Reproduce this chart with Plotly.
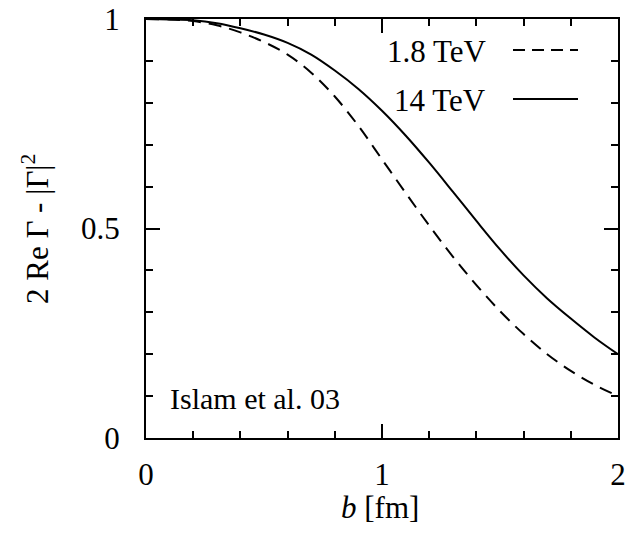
import plotly.graph_objects as go

b_vals = [0.0, 0.1, 0.2, 0.3, 0.4, 0.5, 0.6, 0.7, 0.8, 0.9, 1.0, 1.1, 1.2, 1.3, 1.4, 1.5, 1.6, 1.7, 1.8, 1.9, 2.0]
profile_14tev = [1.0, 0.999, 0.997, 0.99, 0.978, 0.963, 0.943, 0.915, 0.877, 0.833, 0.781, 0.722, 0.657, 0.588, 0.518, 0.45, 0.388, 0.333, 0.285, 0.24, 0.20]
profile_18tev = [1.0, 0.999, 0.995, 0.985, 0.968, 0.945, 0.915, 0.872, 0.815, 0.745, 0.665, 0.585, 0.507, 0.433, 0.365, 0.303, 0.248, 0.2, 0.16, 0.127, 0.10]

legend_labels = ["1.8 TeV", "14 TeV"]
FONT = "Liberation Serif"
DASH = "13px,8px"

fig = go.Figure()
fig.add_trace(go.Scatter(x=b_vals, y=profile_18tev, mode="lines", name=legend_labels[0],
                         line=dict(color="black", width=2, dash=DASH, shape="spline"), showlegend=False))
fig.add_trace(go.Scatter(x=b_vals, y=profile_14tev, mode="lines", name=legend_labels[1],
                         line=dict(color="black", width=2, shape="spline"), showlegend=False))

axis_common = dict(showgrid=False, zeroline=False, showline=True, linecolor="black", linewidth=2,
                   mirror="ticks", ticks="inside", ticklen=14, tickwidth=2, tickcolor="black",
                   automargin=False,
                   tickfont=dict(family=FONT, size=31, color="black"))
fig.update_xaxes(range=[0, 2], tickvals=[0, 1, 2], ticktext=["0", "1", "2"],
                 minor=dict(tickvals=[0.2, 0.4, 0.6, 0.8, 1.2, 1.4, 1.6, 1.8], ticks="inside", ticklen=7,
                            tickwidth=2, tickcolor="black"),
                 ticklabelstandoff=8, **axis_common)
fig.update_yaxes(range=[0, 1], tickvals=[0, 0.5, 1], ticktext=["0", "0.5", "1"],
                 minor=dict(tickvals=[0.1, 0.2, 0.3, 0.4, 0.6, 0.7, 0.8, 0.9], ticks="inside", ticklen=7,
                            tickwidth=2, tickcolor="black"),
                 ticklabelstandoff=18, **axis_common)

def px_x(p):
    return (p - 146) / 472.0

def px_y(p):
    return (438 - p) / 419.0

annotations = [
    dict(text="<i>b</i> [fm]", x=px_x(380), y=px_y(508), xref="paper", yref="paper",
         showarrow=False, font=dict(family=FONT, size=31, color="black"), xanchor="center", yanchor="middle"),
    dict(text="2 Re \u0393 - |\u0393|<sup>2</sup>", x=px_x(35), y=px_y(229), xref="paper", yref="paper",
         showarrow=False, textangle=-90, font=dict(family=FONT, size=31, color="black"),
         xanchor="center", yanchor="middle"),
    dict(text="Islam et al. 03", x=px_x(168), y=px_y(398), xref="paper", yref="paper",
         showarrow=False, font=dict(family=FONT, size=30, color="black"), xanchor="left", yanchor="middle"),
    dict(text=legend_labels[0], x=px_x(488), y=px_y(52), xref="paper", yref="paper",
         showarrow=False, font=dict(family=FONT, size=31, color="black"), xanchor="right", yanchor="middle"),
    dict(text=legend_labels[1], x=px_x(488), y=px_y(100), xref="paper", yref="paper",
         showarrow=False, font=dict(family=FONT, size=31, color="black"), xanchor="right", yanchor="middle"),
]

shapes = [
    dict(type="line", xref="paper", yref="paper", x0=px_x(513), x1=px_x(578), y0=px_y(50), y1=px_y(50),
         line=dict(color="black", width=2, dash="12px,7px")),
    dict(type="line", xref="paper", yref="paper", x0=px_x(513), x1=px_x(578), y0=px_y(99), y1=px_y(99),
         line=dict(color="black", width=2)),
]

fig.update_layout(width=628, height=540, margin=dict(l=146, r=10, t=19, b=102),
                  paper_bgcolor="white", plot_bgcolor="white",
                  annotations=annotations, shapes=shapes, showlegend=False)

fig.write_html("out.html")
